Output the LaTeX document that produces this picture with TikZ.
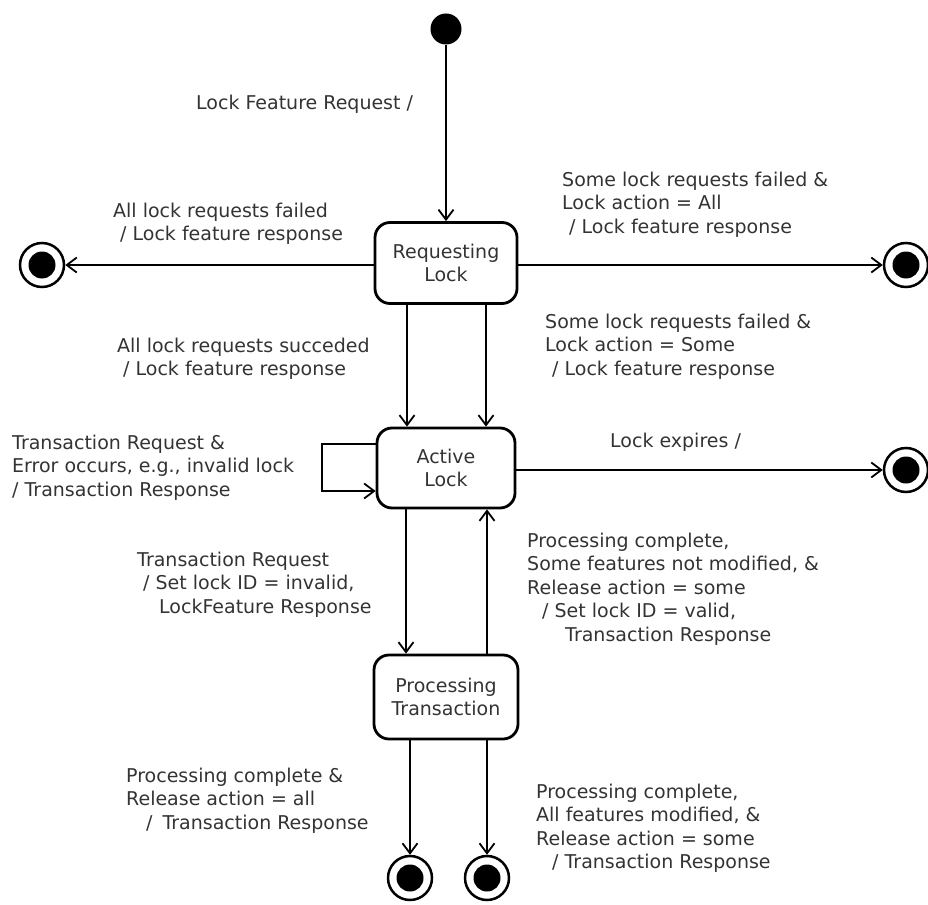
\documentclass[tikz,border=0pt]{standalone}
\usepackage{fontspec}
\setmainfont{DejaVu Sans}
\usetikzlibrary{arrows.meta,calc}
\begin{document}
\begin{tikzpicture}[x=1pt,y=-1pt,
  every node/.style={font=\fontsize{19}{23.5}\selectfont},
  statebox/.style={draw,line width=2.8pt,rounded corners=15pt,align=center,inner sep=0pt,text=black!80},
  initstate/.style={circle,fill=black,minimum size=31pt,inner sep=0pt},
  finalstate/.style={circle,draw,line width=2.5pt,minimum size=44pt,inner sep=0pt,
    path picture={\fill (path picture bounding box.center) circle (13.5pt);}},
  lbl/.style={anchor=base west,align=left,inner sep=0pt,text=black!80},
  arr/.style={line width=2.6pt,-{Straight Barb[length=10pt,width=15pt,line width=1.8pt]}}
]
\useasboundingbox (0,0) rectangle (928,904);
% states
\node[initstate] (init) at (446,29) {};
\node[statebox,minimum width=142pt,minimum height=81pt] (req) at (446,263) {Requesting\\Lock};
\node[statebox,minimum width=138pt,minimum height=80pt] (act) at (446,468) {Active\\Lock};
\node[statebox,minimum width=144pt,minimum height=84pt] (proc) at (446,697) {Processing\\Transaction};
\node[finalstate] (fL) at (42,265) {};
\node[finalstate] (fR1) at (906,265) {};
\node[finalstate] (fR2) at (906,470) {};
\node[finalstate] (fB1) at (410,878) {};
\node[finalstate] (fB2) at (487,878) {};
\coordinate (loopA) at (322,444);
\coordinate (loopB) at (322,491);
% connectors
\draw[arr] (init) -- (req);
\draw[arr] (req.west |- fL) -- (fL);
\draw[arr] (req.east |- fR1) -- (fR1);
\draw[arr] ([xshift=-39pt]req.south) -- ([xshift=-39pt]act.north);
\draw[arr] ([xshift=40pt]req.south) -- ([xshift=40pt]act.north);
\draw[arr] (act.west |- loopA) -- (loopA) -- (loopB) -- (act.west |- loopB);
\draw[arr] (act.east |- fR2) -- (fR2);
\draw[arr] ([xshift=-40pt]act.south) -- ([xshift=-40pt]proc.north);
\draw[arr] ([xshift=41pt]proc.north) -- ([xshift=41pt]act.south);
\draw[arr] (proc.south -| fB1) -- (fB1);
\draw[arr] (proc.south -| fB2) -- (fB2);
% labels (anchor = baseline of the last line)
\node[lbl] (t1) at (196,110) {Lock Feature Request /};
\node[lbl] (t2) at (113,240.5) {All lock requests failed\\\hspace*{7pt}/ Lock feature response};
\node[lbl] (t3) at (562,233) {Some lock requests failed \&\\Lock action = All\\\hspace*{7pt}/ Lock feature response};
\node[lbl] (t4) at (117,375.5) {All lock requests succeded\\\hspace*{6pt}/ Lock feature response};
\node[lbl] (t5) at (545,375) {Some lock requests failed \&\\Lock action = Some\\\hspace*{7pt}/ Lock feature response};
\node[lbl] (t6) at (12,496) {Transaction Request \&\\Error occurs, e.g., invalid lock\\/ Transaction Response};
\node[lbl] (t7) at (610,447) {Lock expires /};
\node[lbl] (t8) at (137,613) {Transaction Request\\\hspace*{6pt}/ Set lock ID = invalid,\\\hspace*{22pt}LockFeature Response};
\node[lbl] (t9) at (527,641) {Processing complete,\\Some features not modified, \&\\Release action = some\\\hspace*{15pt}/ Set lock ID = valid,\\\hspace*{38pt}Transaction Response};
\node[lbl] (t10) at (126,829) {Processing complete \&\\Release action = all\\\hspace*{20pt}/\hspace{10pt}Transaction Response};
\node[lbl] (t11) at (536,868.5) {Processing complete,\\All features modified, \&\\Release action = some\\\hspace*{16pt}/ Transaction Response};
\end{tikzpicture}
\end{document}
